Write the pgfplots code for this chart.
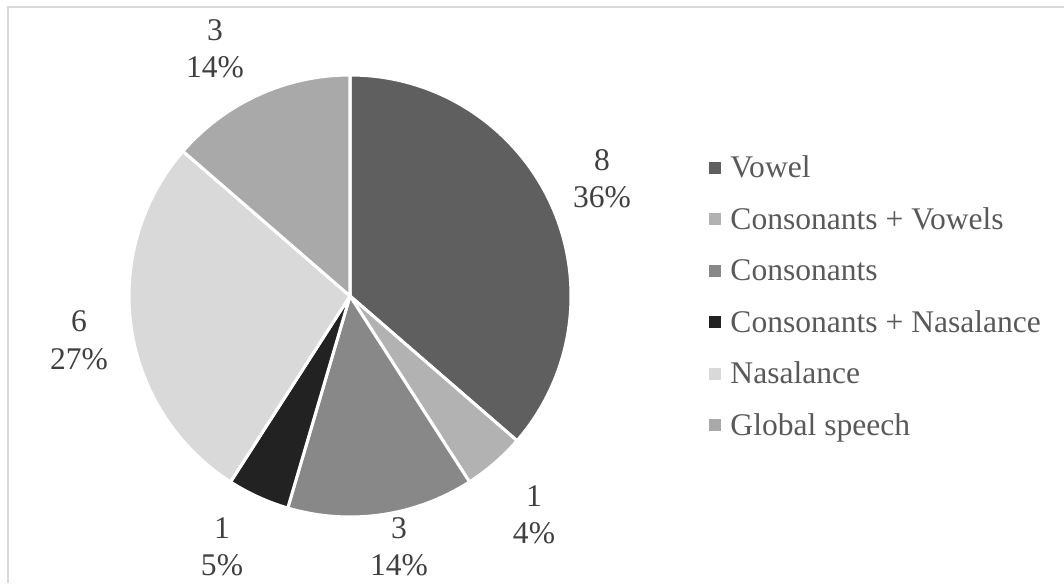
\documentclass[border=0pt]{standalone}
\usepackage{pgfplots}
\usepackage{pgfplotstable}
\usepackage{fontspec}
\pgfplotsset{compat=1.18}
\setmainfont{Liberation Serif}

\definecolor{cVow}{HTML}{5F5F5F}
\definecolor{cConVow}{HTML}{B2B2B2}
\definecolor{cCon}{HTML}{888888}
\definecolor{cConNas}{HTML}{222222}
\definecolor{cNas}{HTML}{D9D9D9}
\definecolor{cGlob}{HTML}{A9A9A9}
\definecolor{labtext}{HTML}{404040}
\definecolor{legtext}{HTML}{595959}
\definecolor{frame}{HTML}{D9D9D9}

% value, shown percent, colour, label centre x and first baseline y (pixels from top left)
\pgfplotstableread[col sep=comma]{
name,value,pct,color,lx,ly
Vowel,8,36,cVow,602,171
Consonants + Vowels,1,4,cConVow,534,506
Consonants,3,14,cCon,399,538
Consonants + Nasalance,1,5,cConNas,222,538
Nasalance,6,27,cNas,79,332
Global speech,3,14,cGlob,215,41
}\piedata

\newcommand\labfont{\fontsize{13.5}{16}\selectfont}

\begin{document}
\begin{tikzpicture}
\begin{axis}[
  width=16cm, height=8.7669cm, scale only axis,
  xmin=0, xmax=1064, ymin=0, ymax=583,
  hide axis,
]
\draw[draw=none] (axis cs:0,0) rectangle (axis cs:1064,583);
% chart frame (only left and top edges show)
\draw[frame, line width=0.9pt] (axis cs:8,0) -- (axis cs:8,576) -- (axis cs:1064,576);

\def\r{3.3233cm}
\def\total{0}
\pgfplotsforeachungrouped \i in {0,...,5}{%
  \pgfplotstablegetelem{\i}{value}\of\piedata
  \pgfmathsetmacro\total{\total+\pgfplotsretval}%
}
\def\a{90}
\pgfplotsforeachungrouped \i in {0,...,5}{%
  \pgfplotstablegetelem{\i}{value}\of\piedata
  \edef\val{\pgfplotsretval}%
  \pgfmathsetmacro\b{\a-360*\val/\total}%
  \pgfplotstablegetelem{\i}{pct}\of\piedata
  \edef\pc{\pgfplotsretval}%
  \pgfplotstablegetelem{\i}{color}\of\piedata
  \edef\col{\pgfplotsretval}%
  \pgfplotstablegetelem{\i}{name}\of\piedata
  \edef\nm{\pgfplotsretval}%
  \pgfplotstablegetelem{\i}{lx}\of\piedata
  \edef\lx{\pgfplotsretval}%
  \pgfplotstablegetelem{\i}{ly}\of\piedata
  \pgfmathsetmacro\lya{583-\pgfplotsretval}%
  \pgfmathsetmacro\lyb{583-\pgfplotsretval-37}%
  \pgfmathsetmacro\my{583-168-51.4*\i}%
  \pgfmathsetmacro\ty{583-178-51.4*\i}%
  \edef\cmd{%
    \noexpand\fill[fill=\col, draw=white, line width=1.3pt, line join=round]
      (axis cs:350,287) -- ++(\a:\r) arc[start angle=\a, end angle=\b, radius=\r] -- cycle;
    \noexpand\node[anchor=base, text=labtext, font=\noexpand\labfont, inner sep=0pt]
      at (axis cs:\lx,\lya) {\val};
    \noexpand\node[anchor=base, text=labtext, font=\noexpand\labfont, inner sep=0pt]
      at (axis cs:\lx,\lyb) {\pc\noexpand\%};
    \noexpand\fill[\col] (axis cs:709,\my-6) rectangle (axis cs:721,\my+6);
    \noexpand\node[anchor=base west, text=legtext, font=\noexpand\labfont, inner sep=0pt]
      at (axis cs:730,\ty) {\nm};
  }%
  \cmd
  \global\let\a\b
}
\end{axis}
\end{tikzpicture}
\end{document}
